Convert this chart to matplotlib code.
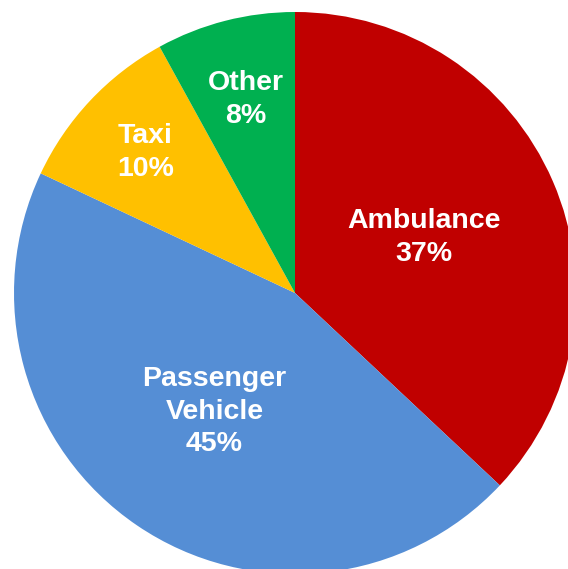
import numpy as np
import matplotlib.pyplot as plt

# vehicle type shares
labels = ['Ambulance', 'Passenger\nVehicle', 'Taxi', 'Other']
shares = [37, 45, 10, 8]
colors = ['#C00000', '#558ED5', '#FFC000', '#00B050']
# how far from the centre each label sits (fraction of radius)
label_r = [0.5, 0.51, 0.73, 0.71]

fig = plt.figure(figsize=(5.68, 5.69), dpi=100)
ax = fig.add_axes([0, 0, 1, 1])

wedges, _ = ax.pie(shares, colors=colors, startangle=90, counterclock=False,
                   radius=1, wedgeprops=dict(linewidth=0))

for w, lab, v, r in zip(wedges, labels, shares, label_r):
    mid = np.deg2rad((w.theta1 + w.theta2) / 2)
    ax.text(r * np.cos(mid), r * np.sin(mid), '{}\n{}%'.format(lab, v),
            ha='center', va='center', color='white', fontsize=20.5,
            fontweight='bold', family='Liberation Sans', linespacing=1.33)

R = 281.0
ax.set_xlim(-295 / R, 273 / R)
ax.set_ylim(-276 / R, 293 / R)
ax.set_aspect('equal')
ax.axis('off')

fig.savefig('out.png', dpi=100)
